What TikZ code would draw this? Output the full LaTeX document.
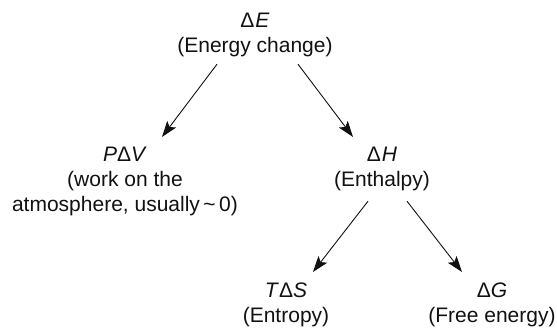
\documentclass[tikz,border=0pt]{standalone}
\usepackage{fontspec}
\setmainfont{Liberation Sans}
\usetikzlibrary{arrows.meta,calc}
\definecolor{ink}{HTML}{111111}
\tikzset{
  termbox/.style={inner sep=0pt, align=center, text=ink, anchor=north,
                  font=\fontsize{21}{25}\selectfont},
  arr/.style={-{Stealth[length=16pt, width=11pt, inset=3.5pt]}, line width=0.9pt, color=ink}}

\begin{document}
\begin{tikzpicture}[x=1pt, y=1pt]
  \useasboundingbox (0,0) rectangle (557,329);
  \node[termbox] (dE) at (255,316) {Δ\kern1pt\textit{E}\\(Energy change)};
  \node[termbox] (PdV) at (125,182) {\textit{P}Δ\textit{V}\\(work on the\\atmosphere, usually\,\textasciitilde\,0)};
  \node[termbox] (dH) at (382,182) {Δ\kern1pt\textit{H}\\(Enthalpy)};
  \node[termbox] (TdS) at (286,46) {\textit{T}Δ\textit{S}\\(Entropy)};
  \node[termbox] (dG) at (492,46) {Δ\textit{G}\\(Free energy)};
  \draw[arr] ($(dE.south)+(-38,-7)$) -- ($(PdV.north)+(37,10)$);
  \draw[arr] ($(dE.south)+(43,-7)$) -- ($(dH.north)+(-29,10)$);
  \draw[arr] ($(dH.south)+(-14,-10)$) -- ($(TdS.north)+(27,11)$);
  \draw[arr] ($(dH.south)+(25,-10)$) -- ($(dG.north)+(-30,11)$);
\end{tikzpicture}
\end{document}
